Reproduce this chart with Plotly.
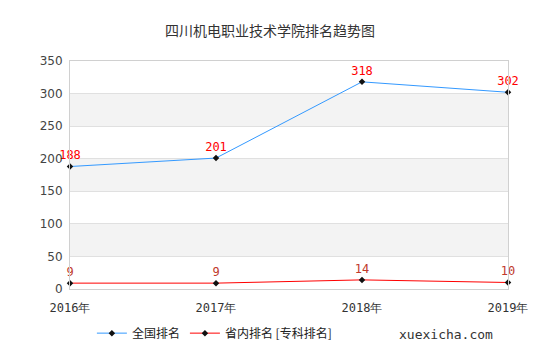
import plotly.graph_objects as go

years = ["2016年", "2017年", "2018年", "2019年"]
national = [188, 201, 318, 302]
province = [9, 9, 14, 10]
y_ticks = [0, 50, 100, 150, 200, 250, 300, 350]
bands = [(50, 100), (150, 200), (250, 300)]

fig = go.Figure()
fig.add_trace(go.Scatter(
    x=years, y=national, name="全国排名", mode="lines+markers+text",
    line=dict(color="#3399ff", width=1),
    marker=dict(symbol="diamond", size=5, color="#111"),
    text=[str(v) for v in national], textposition="top center",
    textfont=dict(color="#ff0000", size=12, family="DejaVu Sans Mono"),
    cliponaxis=False,
))
fig.add_trace(go.Scatter(
    x=years, y=province, name="省内排名 [专科排名]", mode="lines+markers+text",
    line=dict(color="#ff0000", width=1),
    marker=dict(symbol="diamond", size=5, color="#111"),
    text=[str(v) for v in province], textposition="top center",
    textfont=dict(color="#c0392b", size=12, family="DejaVu Sans Mono"),
    cliponaxis=False,
))

shapes = []
for y0, y1 in bands:
    shapes.append(dict(type="rect", xref="paper", yref="y", x0=0, x1=1, y0=y0, y1=y1,
                       fillcolor="#f3f3f3", line=dict(width=0), layer="below"))

fig.update_layout(
    width=540, height=360,
    margin=dict(l=70, r=30, t=61, b=70),
    paper_bgcolor="white", plot_bgcolor="white",
    title=dict(text="四川机电职业技术学院排名趋势图", x=0.5, xanchor="center", y=0.915, yanchor="middle",
               font=dict(size=14, color="#333", family="Noto Sans CJK SC")),
    shapes=shapes,
    showlegend=True,
    legend=dict(orientation="h", x=0.05, y=-0.13, xanchor="left", yanchor="top",
                font=dict(size=12, color="#222", family="Noto Sans CJK SC"), itemwidth=30),
    annotations=[dict(text="xuexicha.com", xref="paper", yref="paper", x=0.97, y=-0.2,
                      xanchor="right", yanchor="middle", showarrow=False,
                      font=dict(size=13, color="#333", family="DejaVu Sans Mono"))],
)
fig.update_xaxes(type="category", range=[0, 3], showgrid=False, showline=True, linecolor="#d0d0d0",
                 mirror=True, ticks="", ticklabelstandoff=8,
                 tickfont=dict(size=12, color="#333", family="DejaVu Sans Mono"))
fig.update_yaxes(range=[0, 350], tickvals=y_ticks, showgrid=True, gridcolor="#e0e0e0",
                 showline=True, linecolor="#d0d0d0", mirror=True, zeroline=False, ticks="",
                 ticklabelstandoff=4,
                 tickfont=dict(size=12, color="#444", family="DejaVu Sans"))

fig.write_html("out.html")
